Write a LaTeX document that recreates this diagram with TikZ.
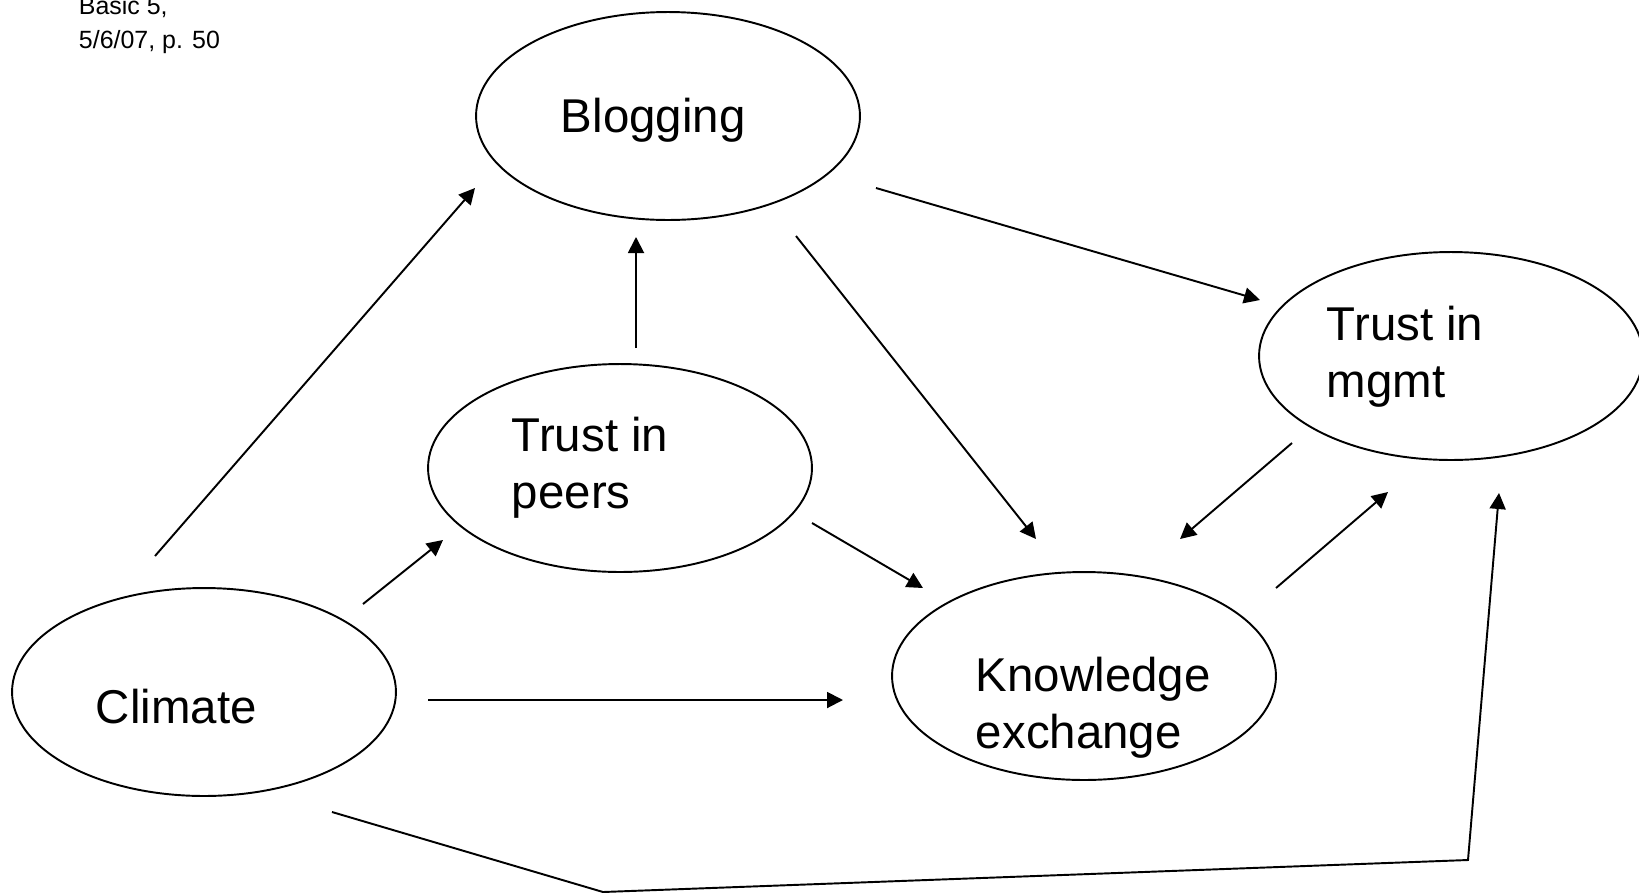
\documentclass[tikz,border=0pt]{standalone}
\usepackage{fontspec}
\setmainfont{Liberation Sans}
\usetikzlibrary{shapes.geometric,arrows.meta}

\begin{document}
\begin{tikzpicture}[x=0.02cm, y=-0.02cm, line width=1.1pt,
	oval/.style={draw, ellipse, minimum width=7.68cm, minimum height=4.16cm, inner sep=0pt},
	lbl/.style={anchor=base west, align=left, inner sep=0pt, font=\fontsize{27}{32}\selectfont},
	arr/.style={-{Triangle[length=0.32cm, width=0.32cm]}}]
				\useasboundingbox (0,0) rectangle (1639,893);
				\node[anchor=base west, align=left, inner sep=0pt, font=\fontsize{14.2}{18.8}\selectfont] (Note)at(78, 48) {Basic 5,\\5/6/07, p. 50};
				% ellipses
				\node[oval] (Blog)at(668, 116) {};
				\node[oval] (Clim)at(204, 692) {};
				\node[oval] (Peer)at(620, 468) {};
				\node[oval] (Know)at(1084, 676) {};
				\node[oval] (Mgmt)at(1451, 356) {};
				% texts (base = last line)
				\node[lbl] (BlogT)at(560, 132) {Blogging};
				\node[lbl] (ClimT)at(95, 723) {Climate};
				\node[lbl] (PeerT)at(511, 508) {Trust in\\peers};
				\node[lbl] (KnowT)at(975, 748) {Knowledge\\exchange};
				\node[lbl] (MgmtT)at(1326, 397) {Trust in\\mgmt};
				% arrow ends
				\coordinate (C1)at(155, 556); \coordinate (B1)at(475, 188);
				\coordinate (C2)at(363, 604); \coordinate (P1)at(443, 540);
				\coordinate (C3)at(428, 700); \coordinate (K1)at(843, 700);
				\coordinate (C4)at(332, 812); \coordinate (D1)at(603, 892);
				\coordinate (D2)at(1468, 860); \coordinate (M1)at(1499, 493);
				\coordinate (P2)at(636, 348); \coordinate (B2)at(636, 237);
				\coordinate (P3)at(812, 523); \coordinate (K2)at(923, 588);
				\coordinate (B3)at(796, 236); \coordinate (K3)at(1036, 539);
				\coordinate (B4)at(876, 188); \coordinate (M2)at(1260, 300);
				\coordinate (M3)at(1292, 443); \coordinate (K4)at(1180, 539);
				\coordinate (K5)at(1276, 588); \coordinate (M4)at(1388, 492);
				\draw[arr] (C1) -- (B1);
				\draw[arr] (C2) -- (P1);
				\draw[arr] (C3) -- (K1);
				\draw[arr] (C4) -- (D1) -- (D2) -- (M1);
				\draw[arr] (P2) -- (B2);
				\draw[arr] (P3) -- (K2);
				\draw[arr] (B3) -- (K3);
				\draw[arr] (B4) -- (M2);
				\draw[arr] (M3) -- (K4);
				\draw[arr] (K5) -- (M4);
			\end{tikzpicture}
\end{document}
